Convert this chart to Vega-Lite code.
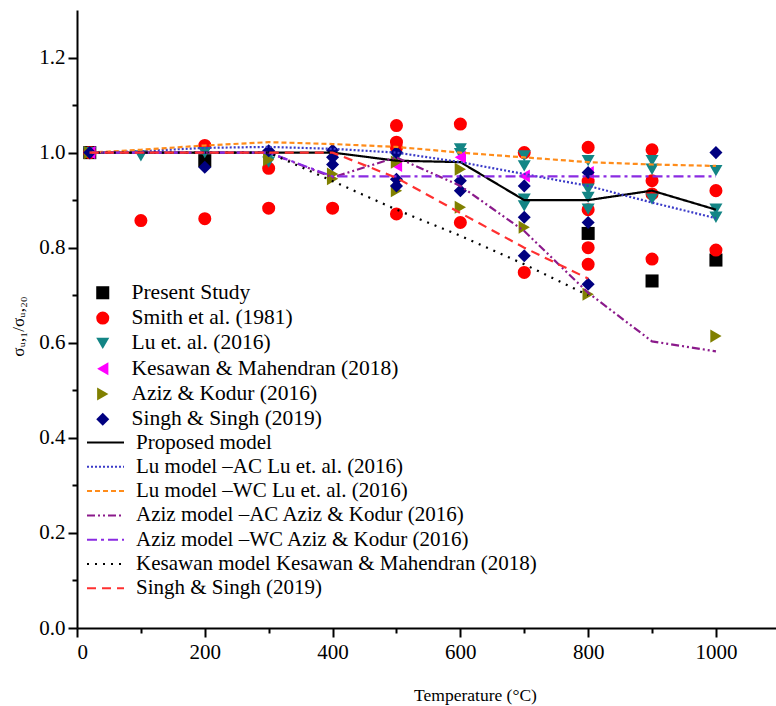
{
  "$schema": "https://vega.github.io/schema/vega-lite/v6.json",
  "width": 699,
  "height": 618,
  "autosize": {"type": "none"},
  "padding": {"left": 77, "top": 10, "right": 0, "bottom": 78},
  "background": "white",
  "config": {
    "view": {"stroke": null},
    "font": "'Liberation Serif', 'Times New Roman', serif",
    "axis": {
      "labelFont": "'Liberation Serif', 'Times New Roman', serif",
      "labelColor": "black",
      "labelFontSize": 21,
      "tickColor": "black",
      "domainColor": "black",
      "domainWidth": 2,
      "tickWidth": 2,
      "grid": false,
      "titleFont": "'Liberation Serif', 'Times New Roman', serif",
      "titleFontWeight": "normal",
      "titleColor": "black"
    }
  },
  "datasets": {
    "pts": [
      {"series": "Present Study", "T": 20, "v": 1.0},
      {"series": "Present Study", "T": 200, "v": 0.983},
      {"series": "Present Study", "T": 800, "v": 0.83},
      {"series": "Present Study", "T": 900, "v": 0.73},
      {"series": "Present Study", "T": 1000, "v": 0.774},
      {"series": "Smith et al. (1981)", "T": 20, "v": 1.0},
      {"series": "Smith et al. (1981)", "T": 100, "v": 0.857},
      {"series": "Smith et al. (1981)", "T": 200, "v": 1.015},
      {"series": "Smith et al. (1981)", "T": 200, "v": 0.861},
      {"series": "Smith et al. (1981)", "T": 300, "v": 0.967},
      {"series": "Smith et al. (1981)", "T": 300, "v": 0.883},
      {"series": "Smith et al. (1981)", "T": 400, "v": 0.883},
      {"series": "Smith et al. (1981)", "T": 500, "v": 1.057},
      {"series": "Smith et al. (1981)", "T": 500, "v": 1.022},
      {"series": "Smith et al. (1981)", "T": 500, "v": 1.01},
      {"series": "Smith et al. (1981)", "T": 500, "v": 0.871},
      {"series": "Smith et al. (1981)", "T": 600, "v": 1.06},
      {"series": "Smith et al. (1981)", "T": 600, "v": 0.853},
      {"series": "Smith et al. (1981)", "T": 700, "v": 1.0},
      {"series": "Smith et al. (1981)", "T": 700, "v": 0.748},
      {"series": "Smith et al. (1981)", "T": 800, "v": 1.011},
      {"series": "Smith et al. (1981)", "T": 800, "v": 0.94},
      {"series": "Smith et al. (1981)", "T": 800, "v": 0.88},
      {"series": "Smith et al. (1981)", "T": 800, "v": 0.80},
      {"series": "Smith et al. (1981)", "T": 800, "v": 0.765},
      {"series": "Smith et al. (1981)", "T": 900, "v": 1.006},
      {"series": "Smith et al. (1981)", "T": 900, "v": 0.941},
      {"series": "Smith et al. (1981)", "T": 900, "v": 0.913},
      {"series": "Smith et al. (1981)", "T": 900, "v": 0.776},
      {"series": "Smith et al. (1981)", "T": 1000, "v": 0.92},
      {"series": "Smith et al. (1981)", "T": 1000, "v": 0.795},
      {"series": "Lu et. al. (2016)", "T": 20, "v": 1.0},
      {"series": "Lu et. al. (2016)", "T": 100, "v": 0.993},
      {"series": "Lu et. al. (2016)", "T": 200, "v": 1.0},
      {"series": "Lu et. al. (2016)", "T": 300, "v": 0.99},
      {"series": "Lu et. al. (2016)", "T": 300, "v": 0.98},
      {"series": "Lu et. al. (2016)", "T": 500, "v": 0.99},
      {"series": "Lu et. al. (2016)", "T": 600, "v": 1.008},
      {"series": "Lu et. al. (2016)", "T": 600, "v": 0.998},
      {"series": "Lu et. al. (2016)", "T": 700, "v": 0.993},
      {"series": "Lu et. al. (2016)", "T": 700, "v": 0.972},
      {"series": "Lu et. al. (2016)", "T": 700, "v": 0.902},
      {"series": "Lu et. al. (2016)", "T": 700, "v": 0.888},
      {"series": "Lu et. al. (2016)", "T": 800, "v": 0.983},
      {"series": "Lu et. al. (2016)", "T": 800, "v": 0.923},
      {"series": "Lu et. al. (2016)", "T": 800, "v": 0.906},
      {"series": "Lu et. al. (2016)", "T": 800, "v": 0.881},
      {"series": "Lu et. al. (2016)", "T": 900, "v": 0.983},
      {"series": "Lu et. al. (2016)", "T": 900, "v": 0.965},
      {"series": "Lu et. al. (2016)", "T": 900, "v": 0.902},
      {"series": "Lu et. al. (2016)", "T": 1000, "v": 0.962},
      {"series": "Lu et. al. (2016)", "T": 1000, "v": 0.881},
      {"series": "Lu et. al. (2016)", "T": 1000, "v": 0.864},
      {"series": "Kesawan & Mahendran  (2018)", "T": 20, "v": 1.0},
      {"series": "Kesawan & Mahendran  (2018)", "T": 500, "v": 0.973},
      {"series": "Kesawan & Mahendran  (2018)", "T": 600, "v": 0.99},
      {"series": "Kesawan & Mahendran  (2018)", "T": 700, "v": 0.951},
      {"series": "Kesawan & Mahendran  (2018)", "T": 800, "v": 0.958},
      {"series": "Aziz & Kodur (2016)", "T": 20, "v": 1.0},
      {"series": "Aziz & Kodur (2016)", "T": 300, "v": 0.985},
      {"series": "Aziz & Kodur (2016)", "T": 400, "v": 0.955},
      {"series": "Aziz & Kodur (2016)", "T": 400, "v": 0.945},
      {"series": "Aziz & Kodur (2016)", "T": 500, "v": 0.98},
      {"series": "Aziz & Kodur (2016)", "T": 500, "v": 0.92},
      {"series": "Aziz & Kodur (2016)", "T": 600, "v": 0.965},
      {"series": "Aziz & Kodur (2016)", "T": 600, "v": 0.885},
      {"series": "Aziz & Kodur (2016)", "T": 700, "v": 0.843},
      {"series": "Aziz & Kodur (2016)", "T": 800, "v": 0.702},
      {"series": "Aziz & Kodur (2016)", "T": 1000, "v": 0.614},
      {"series": "Singh & Singh (2019)", "T": 20, "v": 1.0},
      {"series": "Singh & Singh (2019)", "T": 200, "v": 0.969},
      {"series": "Singh & Singh (2019)", "T": 300, "v": 1.004},
      {"series": "Singh & Singh (2019)", "T": 400, "v": 1.005},
      {"series": "Singh & Singh (2019)", "T": 400, "v": 0.99},
      {"series": "Singh & Singh (2019)", "T": 400, "v": 0.975},
      {"series": "Singh & Singh (2019)", "T": 500, "v": 1.0},
      {"series": "Singh & Singh (2019)", "T": 500, "v": 0.944},
      {"series": "Singh & Singh (2019)", "T": 500, "v": 0.93},
      {"series": "Singh & Singh (2019)", "T": 600, "v": 0.941},
      {"series": "Singh & Singh (2019)", "T": 600, "v": 0.92},
      {"series": "Singh & Singh (2019)", "T": 700, "v": 0.93},
      {"series": "Singh & Singh (2019)", "T": 700, "v": 0.864},
      {"series": "Singh & Singh (2019)", "T": 700, "v": 0.783},
      {"series": "Singh & Singh (2019)", "T": 800, "v": 0.958},
      {"series": "Singh & Singh (2019)", "T": 800, "v": 0.853},
      {"series": "Singh & Singh (2019)", "T": 800, "v": 0.723},
      {"series": "Singh & Singh (2019)", "T": 1000, "v": 1.0}
    ],
    "lines": [
      {"model": "Proposed model", "T": 20, "v": 1.0},
      {"model": "Proposed model", "T": 100, "v": 1.0},
      {"model": "Proposed model", "T": 200, "v": 1.0},
      {"model": "Proposed model", "T": 300, "v": 1.0},
      {"model": "Proposed model", "T": 400, "v": 1.0},
      {"model": "Proposed model", "T": 500, "v": 0.983},
      {"model": "Proposed model", "T": 600, "v": 0.98},
      {"model": "Proposed model", "T": 700, "v": 0.90},
      {"model": "Proposed model", "T": 800, "v": 0.90},
      {"model": "Proposed model", "T": 900, "v": 0.92},
      {"model": "Proposed model", "T": 1000, "v": 0.88},
      {"model": "Lu model –AC Lu et. al. (2016)", "T": 20, "v": 1.0},
      {"model": "Lu model –AC Lu et. al. (2016)", "T": 100, "v": 1.003},
      {"model": "Lu model –AC Lu et. al. (2016)", "T": 200, "v": 1.01},
      {"model": "Lu model –AC Lu et. al. (2016)", "T": 300, "v": 1.012},
      {"model": "Lu model –AC Lu et. al. (2016)", "T": 400, "v": 1.008},
      {"model": "Lu model –AC Lu et. al. (2016)", "T": 500, "v": 1.0},
      {"model": "Lu model –AC Lu et. al. (2016)", "T": 600, "v": 0.98},
      {"model": "Lu model –AC Lu et. al. (2016)", "T": 700, "v": 0.955},
      {"model": "Lu model –AC Lu et. al. (2016)", "T": 800, "v": 0.93},
      {"model": "Lu model –AC Lu et. al. (2016)", "T": 900, "v": 0.895},
      {"model": "Lu model –AC Lu et. al. (2016)", "T": 1000, "v": 0.862},
      {"model": "Lu model –WC Lu et. al. (2016)", "T": 20, "v": 1.0},
      {"model": "Lu model –WC Lu et. al. (2016)", "T": 100, "v": 1.006},
      {"model": "Lu model –WC Lu et. al. (2016)", "T": 200, "v": 1.015},
      {"model": "Lu model –WC Lu et. al. (2016)", "T": 300, "v": 1.022},
      {"model": "Lu model –WC Lu et. al. (2016)", "T": 400, "v": 1.018},
      {"model": "Lu model –WC Lu et. al. (2016)", "T": 500, "v": 1.012},
      {"model": "Lu model –WC Lu et. al. (2016)", "T": 600, "v": 1.0},
      {"model": "Lu model –WC Lu et. al. (2016)", "T": 700, "v": 0.99},
      {"model": "Lu model –WC Lu et. al. (2016)", "T": 800, "v": 0.98},
      {"model": "Lu model –WC Lu et. al. (2016)", "T": 900, "v": 0.975},
      {"model": "Lu model –WC Lu et. al. (2016)", "T": 1000, "v": 0.972},
      {"model": "Aziz model –AC Aziz & Kodur (2016)", "T": 20, "v": 1.0},
      {"model": "Aziz model –AC Aziz & Kodur (2016)", "T": 100, "v": 1.0},
      {"model": "Aziz model –AC Aziz & Kodur (2016)", "T": 200, "v": 1.0},
      {"model": "Aziz model –AC Aziz & Kodur (2016)", "T": 300, "v": 1.0},
      {"model": "Aziz model –AC Aziz & Kodur (2016)", "T": 400, "v": 0.948},
      {"model": "Aziz model –AC Aziz & Kodur (2016)", "T": 500, "v": 0.99},
      {"model": "Aziz model –AC Aziz & Kodur (2016)", "T": 600, "v": 0.93},
      {"model": "Aziz model –AC Aziz & Kodur (2016)", "T": 700, "v": 0.835},
      {"model": "Aziz model –AC Aziz & Kodur (2016)", "T": 800, "v": 0.705},
      {"model": "Aziz model –AC Aziz & Kodur (2016)", "T": 900, "v": 0.603},
      {"model": "Aziz model –AC Aziz & Kodur (2016)", "T": 1000, "v": 0.582},
      {"model": "Aziz model –WC Aziz & Kodur (2016)", "T": 20, "v": 1.0},
      {"model": "Aziz model –WC Aziz & Kodur (2016)", "T": 100, "v": 1.0},
      {"model": "Aziz model –WC Aziz & Kodur (2016)", "T": 200, "v": 1.0},
      {"model": "Aziz model –WC Aziz & Kodur (2016)", "T": 300, "v": 1.0},
      {"model": "Aziz model –WC Aziz & Kodur (2016)", "T": 400, "v": 0.95},
      {"model": "Aziz model –WC Aziz & Kodur (2016)", "T": 500, "v": 0.95},
      {"model": "Aziz model –WC Aziz & Kodur (2016)", "T": 600, "v": 0.95},
      {"model": "Aziz model –WC Aziz & Kodur (2016)", "T": 700, "v": 0.95},
      {"model": "Aziz model –WC Aziz & Kodur (2016)", "T": 800, "v": 0.95},
      {"model": "Aziz model –WC Aziz & Kodur (2016)", "T": 900, "v": 0.95},
      {"model": "Aziz model –WC Aziz & Kodur (2016)", "T": 1000, "v": 0.95},
      {"model": "Kesawan model Kesawan & Mahendran (2018)", "T": 20, "v": 1.0},
      {"model": "Kesawan model Kesawan & Mahendran (2018)", "T": 100, "v": 1.0},
      {"model": "Kesawan model Kesawan & Mahendran (2018)", "T": 200, "v": 1.0},
      {"model": "Kesawan model Kesawan & Mahendran (2018)", "T": 300, "v": 1.0},
      {"model": "Kesawan model Kesawan & Mahendran (2018)", "T": 400, "v": 0.94},
      {"model": "Kesawan model Kesawan & Mahendran (2018)", "T": 500, "v": 0.88},
      {"model": "Kesawan model Kesawan & Mahendran (2018)", "T": 600, "v": 0.825},
      {"model": "Kesawan model Kesawan & Mahendran (2018)", "T": 700, "v": 0.765},
      {"model": "Kesawan model Kesawan & Mahendran (2018)", "T": 800, "v": 0.70},
      {"model": "Singh & Singh (2019)", "T": 20, "v": 1.0},
      {"model": "Singh & Singh (2019)", "T": 100, "v": 1.0},
      {"model": "Singh & Singh (2019)", "T": 200, "v": 1.0},
      {"model": "Singh & Singh (2019)", "T": 300, "v": 1.0},
      {"model": "Singh & Singh (2019)", "T": 400, "v": 1.0},
      {"model": "Singh & Singh (2019)", "T": 500, "v": 0.947},
      {"model": "Singh & Singh (2019)", "T": 600, "v": 0.873},
      {"model": "Singh & Singh (2019)", "T": 700, "v": 0.80},
      {"model": "Singh & Singh (2019)", "T": 800, "v": 0.735}
    ]
  },
  "layer": [
    {
      "data": {"name": "pts"},
      "mark": {"type": "point", "opacity": 0},
      "encoding": {
        "x": {"field": "T", "type": "quantitative", "scale": {"domain": [0, 1094], "nice": false, "zero": false},
          "axis": {"orient": "bottom", "values": [100, 300, 500, 700, 900], "labels": false, "tickSize": 5, "domain": false, "title": null}},
        "y": {"field": "v", "type": "quantitative", "scale": {"domain": [0, 1.3], "nice": false},
          "axis": {"orient": "left", "values": [0.1, 0.3, 0.5, 0.7, 0.9, 1.1], "labels": false, "tickSize": 5, "domain": false, "title": null}}
      }
    },
    {
      "data": {"name": "pts"},
      "mark": {"type": "point", "filled": true, "size": 170, "opacity": 1},
      "encoding": {
        "x": {"field": "T", "type": "quantitative",
          "axis": {"orient": "bottom", "values": [0, 200, 400, 600, 800, 1000], "format": "d", "tickSize": 9, "labelPadding": 4,
            "title": "Temperature (°C)", "titleFontSize": 17.5, "titleX": 398, "titleY": 58}},
        "y": {"field": "v", "type": "quantitative",
          "axis": {"orient": "left", "values": [0, 0.2, 0.4, 0.6, 0.8, 1.0, 1.2], "format": ".1f", "tickSize": 9, "labelPadding": 3,
            "title": "σᵤ,₁/σᵤ,₂₀", "titleFontSize": 17, "titleX": -50, "titleY": 316}},
        "fill": {"field": "series", "type": "nominal",
          "scale": {"domain": ["Present Study", "Smith et al. (1981)", "Lu et. al. (2016)", "Kesawan & Mahendran  (2018)", "Aziz & Kodur (2016)", "Singh & Singh (2019)"],
            "range": ["#000000", "#ff0000", "#138585", "#ff00ff", "#808000", "#000080"]},
          "legend": {"orient": "none", "legendX": 15, "legendY": 272, "title": null, "padding": 0,
            "labelFont": "'Liberation Serif', 'Times New Roman', serif", "labelFontSize": 21.5, "labelColor": "black", "labelLimit": 0,
            "rowPadding": 2.3, "symbolSize": 170, "labelOffset": 18, "symbolStrokeWidth": 0,
            "encode": {"labels": {"update": {
              "font": {"signal": "datum.label === 'Present Study' ? 'Liberation Sans, Arial, sans-serif' : 'Liberation Serif, Times New Roman, serif'"},
              "fontSize": {"signal": "datum.label === 'Present Study' ? 16 : 21.5"}}}}}},
        "shape": {"field": "series", "type": "nominal",
          "scale": {"domain": ["Present Study", "Smith et al. (1981)", "Lu et. al. (2016)", "Kesawan & Mahendran  (2018)", "Aziz & Kodur (2016)", "Singh & Singh (2019)"],
            "range": ["square", "circle", "triangle-down", "triangle-left", "triangle-right", "diamond"]}}
      }
    },
    {
      "data": {"name": "lines"},
      "mark": {"type": "line", "strokeWidth": 2.2},
      "encoding": {
        "x": {"field": "T", "type": "quantitative", "axis": null},
        "y": {"field": "v", "type": "quantitative", "axis": null},
        "order": {"field": "T", "type": "quantitative"},
        "stroke": {"field": "model", "type": "nominal",
          "scale": {"domain": ["Proposed model", "Lu model –AC Lu et. al. (2016)", "Lu model –WC Lu et. al. (2016)", "Aziz model –AC Aziz & Kodur (2016)", "Aziz model –WC Aziz & Kodur (2016)", "Kesawan model Kesawan & Mahendran (2018)", "Singh & Singh (2019)"],
            "range": ["#000000", "#3a3ac8", "#ff8c1a", "#8b1a8b", "#8a2be2", "#000000", "#ff3030"]},
          "legend": {"orient": "none", "legendX": 9, "legendY": 422, "title": null, "padding": 0,
            "labelFont": "'Liberation Serif', 'Times New Roman', serif", "labelFontSize": 21, "labelColor": "black", "labelLimit": 0,
            "clipHeight": 21, "rowPadding": 2.3, "symbolType": "stroke", "symbolSize": 1369, "symbolStrokeWidth": 2, "labelOffset": 11}},
        "strokeDash": {"field": "model", "type": "nominal",
          "scale": {"domain": ["Proposed model", "Lu model –AC Lu et. al. (2016)", "Lu model –WC Lu et. al. (2016)", "Aziz model –AC Aziz & Kodur (2016)", "Aziz model –WC Aziz & Kodur (2016)", "Kesawan model Kesawan & Mahendran (2018)", "Singh & Singh (2019)"],
            "range": [[1, 0], [2, 2], [5, 3], [8, 3, 2, 3, 2, 3], [10, 4, 3, 4], [2, 6], [9, 6]]}}
      }
    }
  ],
  "resolve": {"axis": {"x": "independent", "y": "independent"}}
}
